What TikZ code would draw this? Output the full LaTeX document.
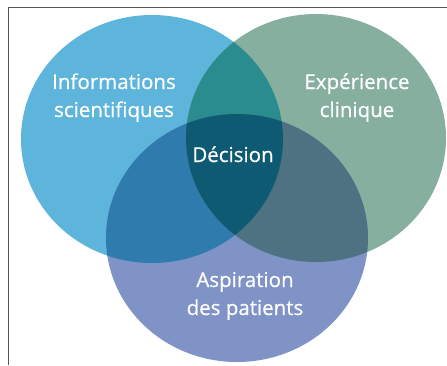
\documentclass[tikz,border=0pt]{standalone}
\usepackage{fontspec}
\setmainfont{Open Sans}
\newfontfamily\lblfont{Open Sans}[FakeBold=0.5]
\definecolor{cblue}{HTML}{5DB5DB}
\definecolor{cgreen}{HTML}{87AFA0}
\definecolor{cpurple}{HTML}{7F93C7}
\definecolor{cbg}{HTML}{2B8C8F}
\definecolor{cbp}{HTML}{2F7BAE}
\definecolor{cgp}{HTML}{4F7282}
\definecolor{cmid}{HTML}{0E5A72}
\definecolor{cframe}{HTML}{555555}
\begin{document}
\begin{tikzpicture}[x=1pt,y=-1pt,
  lbl/.style={text=white,font=\lblfont\fontsize{20.5}{28}\selectfont,align=center,inner sep=0pt},
  frameline/.style={draw=cframe,line width=1pt}]
\useasboundingbox (0,0) rectangle (447,365);
\def\shapeA{(152,139) ellipse [x radius=131,y radius=124]}
\def\shapeB{(316,138) ellipse [x radius=130,y radius=124]}
\def\shapeC{(237,238) ellipse [x radius=131,y radius=124]}
\fill[cblue] \shapeA;
\fill[cgreen] \shapeB;
\fill[cpurple] \shapeC;
\begin{scope}\clip \shapeA; \fill[cbg] \shapeB; \fill[cbp] \shapeC; \end{scope}
\begin{scope}\clip \shapeB; \fill[cgp] \shapeC; \end{scope}
\begin{scope}\clip \shapeA; \clip \shapeB; \fill[cmid] \shapeC; \end{scope}
\coordinate (tl) at (8,7);
\coordinate (tr) at (447,7);
\coordinate (bl) at (8,365);
\draw[frameline] (tr) -- (tl) -- (bl);
\node[lbl,anchor=base] (info) at (114,117) {Informations\\scientifiques};
\node[lbl,anchor=base] (exp) at (357,117) {Expérience\\clinique};
\node[lbl,anchor=base] (dec) at (233,162) {Décision};
\node[lbl,anchor=base] (asp) at (245,315) {Aspiration\\des patients};
\end{tikzpicture}
\end{document}
